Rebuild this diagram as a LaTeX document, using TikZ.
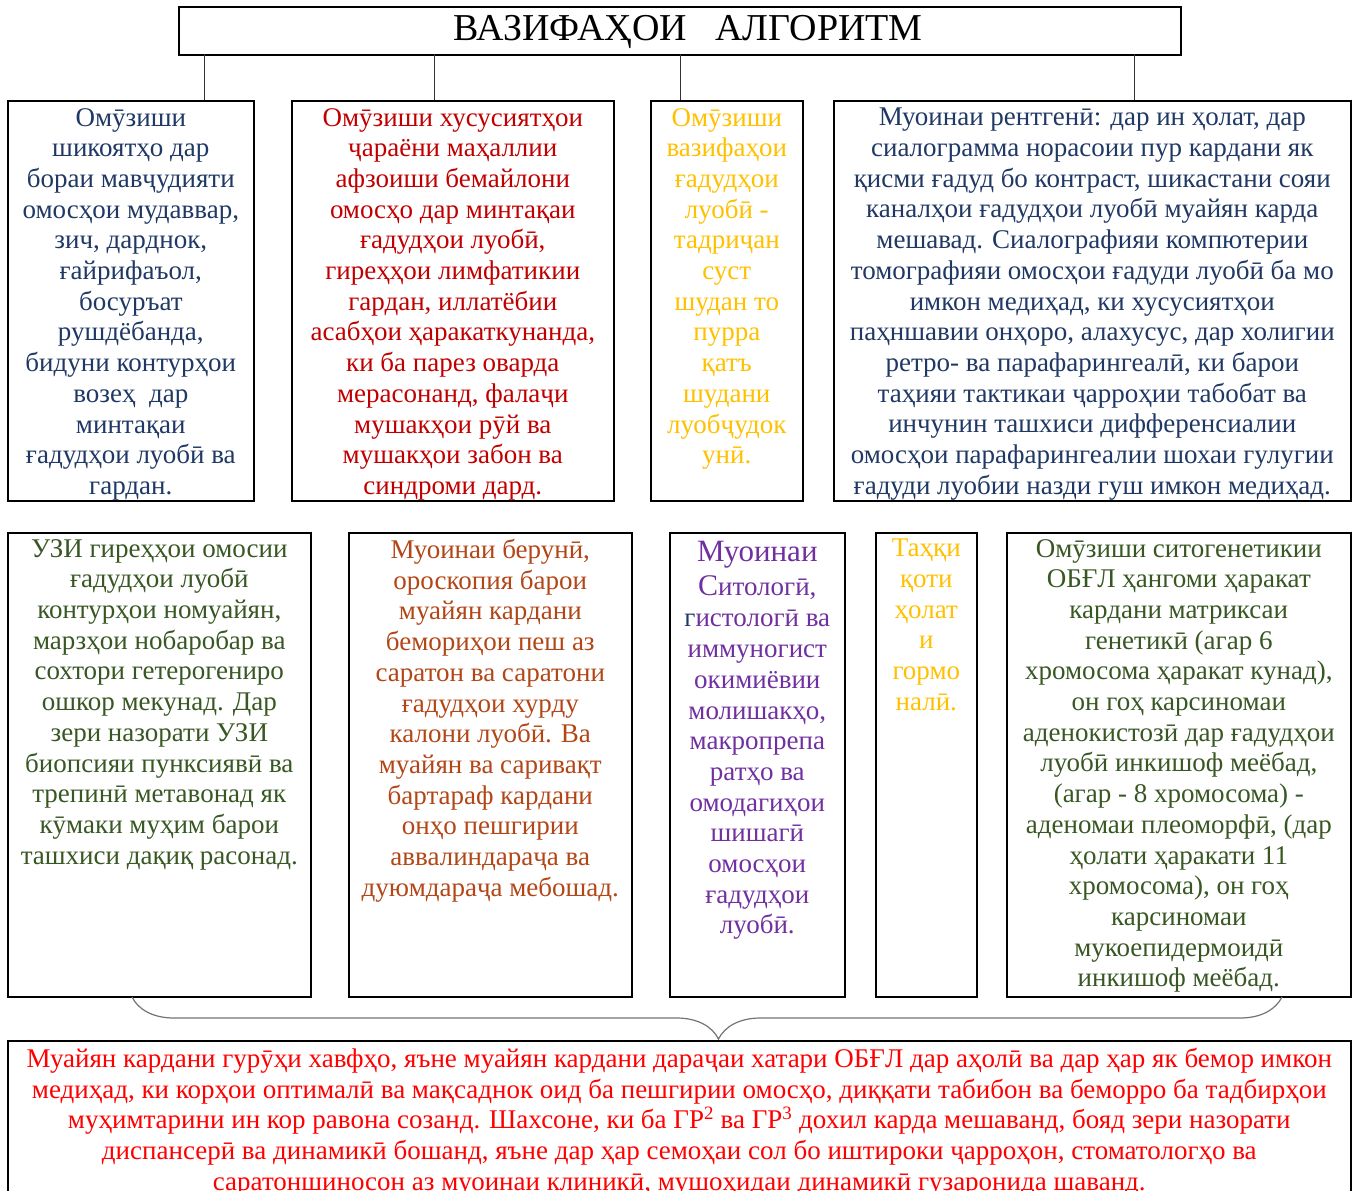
\documentclass[tikz,border=0pt]{standalone}
\usepackage{fontspec}
\setmainfont{Liberation Serif}
\usetikzlibrary{positioning,decorations.pathreplacing}
\definecolor{mynavy}{RGB}{31, 56, 100}
\definecolor{mydarkred}{RGB}{192, 0, 0}
\definecolor{mygold}{RGB}{255, 192, 0}
\definecolor{mygreen}{RGB}{56, 87, 35}
\definecolor{mybrown}{RGB}{178, 70, 22}
\definecolor{mypurple}{RGB}{112, 48, 160}
\definecolor{myred}{RGB}{255, 0, 0}

\begin{document}
\begin{tikzpicture}[x=1pt,y=-1pt]
                \useasboundingbox (0,0) rectangle (1357,1191);
                \tikzstyle{box}=[rectangle, draw, line width=1.6pt, anchor=north west, inner sep=0pt]
                \tikzstyle{txt}=[align=center, inner sep=0pt, font=\fontsize{27}{30.7}\selectfont]

                \node[box, minimum width=1002pt, minimum height=48pt] (T) at (178,6) {};
                \node[inner sep=0pt, font=\fontsize{38}{42}\selectfont] (Tt) at (688,32) {ВАЗИФАҲОИ~~~АЛГОРИТМ};

                % top row
                \node[box, minimum width=246pt, minimum height=400pt] (B1) at (7,100) {};
                \node[box, minimum width=322pt, minimum height=400pt] (B2) at (291,100) {};
                \node[box, minimum width=152pt, minimum height=400pt] (B3) at (650,100) {};
                \node[box, minimum width=517pt, minimum height=400pt] (B4) at (833,100) {};

                \node[txt, text=mynavy, below=8pt of B1.north] (B1t) {Омӯзиши\\шикоятҳо дар\\бораи мавҷудияти\\омосҳои мудаввар,\\зич, дарднок,\\ғайрифаъол,\\босуръат\\рушдёбанда,\\бидуни контурҳои\\возеҳ~~дар\\минтақаи\\ғадудҳои луобӣ ва\\гардан.};
                \node[txt, text=mydarkred, below=8pt of B2.north] (B2t) {Омӯзиши хусусиятҳои\\ҷараёни маҳаллии\\афзоиши бемайлони\\омосҳо дар минтақаи\\ғадудҳои луобӣ,\\гиреҳҳои лимфатикии\\гардан, иллатёбии\\асабҳои ҳаракаткунанда,\\ки ба парез оварда\\мерасонанд, фалаҷи\\мушакҳои рӯй ва\\мушакҳои забон ва\\синдроми дард.};
                \node[txt, text=mygold, below=8pt of B3.north] (B3t) {Омӯзиши\\вазифаҳои\\ғадудҳои\\луобӣ -\\тадриҷан\\суст\\шудан то\\пурра\\қатъ\\шудани\\луобҷудок\\унӣ.};
                \node[txt, text=mynavy, below=8pt of B4.north] (B4t) {Муоинаи рентгенӣ: дар ин ҳолат, дар\\сиалограмма норасоии пур кардани як\\қисми ғадуд бо контраст, шикастани сояи\\каналҳои ғадудҳои луобӣ муайян карда\\мешавад. Сиалографияи компютерии\\томографияи омосҳои ғадуди луобӣ ба мо\\имкон медиҳад, ки хусусиятҳои\\паҳншавии онҳоро, алахусус, дар холигии\\ретро- ва парафарингеалӣ, ки барои\\таҳияи тактикаи ҷарроҳии табобат ва\\инчунин ташхиси дифференсиалии\\омосҳои парафарингеалии шохаи гулугии\\ғадуди луобии назди гуш имкон медиҳад.};

                % second row
                \node[box, minimum width=303pt, minimum height=464pt] (C1) at (7,532) {};
                \node[box, minimum width=283pt, minimum height=464pt] (C2) at (348,532) {};
                \node[box, minimum width=175pt, minimum height=464pt] (C3) at (669,532) {};
                \node[box, minimum width=101pt, minimum height=464pt] (C4) at (875,532) {};
                \node[box, minimum width=344pt, minimum height=464pt] (C5) at (1006,532) {};

                \node[txt, text=mygreen, below=7pt of C1.north] (C1t) {УЗИ гиреҳҳои омосии\\ғадудҳои луобӣ\\контурҳои номуайян,\\марзҳои нобаробар ва\\сохтори гетерогениро\\ошкор мекунад. Дар\\зери назорати УЗИ\\биопсияи пунксиявӣ ва\\трепинӣ метавонад як\\кӯмаки муҳим барои\\ташхиси дақиқ расонад.};
                \node[txt, text=mybrown, below=7pt of C2.north] (C2t) {Муоинаи берунӣ,\\ороскопия барои\\муайян кардани\\бемориҳои пеш аз\\саратон ва саратони\\ғадудҳои хурду\\калони луобӣ. Ва\\муайян ва саривақт\\бартараф кардани\\онҳо пешгирии\\аввалиндараҷа ва\\дуюмдараҷа мебошад.};
                \node[txt, text=mypurple, below=9pt of C3.north] (C3t) {{\fontsize{31}{34}\selectfont Муоинаи}\\[3pt]{\fontsize{30}{33}\selectfont С}итологӣ,\\[1pt]{\color{mynavy}г}истологӣ ва\\иммуногист\\окимиёвии\\молишакҳо,\\макропрепа\\ратҳо ва\\омодагиҳои\\шишагӣ\\омосҳои\\ғадудҳои\\луобӣ.};
                \node[txt, text=mygold, below=7pt of C4.north] (C4t) {Таҳқи\\қоти\\ҳолат\\и\\гормо\\налӣ.};
                \node[txt, text=mygreen, below=7pt of C5.north] (C5t) {Омӯзиши ситогенетикии\\ОБҒЛ ҳангоми ҳаракат\\кардани матриксаи\\генетикӣ (агар 6\\хромосома ҳаракат кунад),\\он гоҳ карсиномаи\\аденокистозӣ дар ғадудҳои\\луобӣ инкишоф меёбад,\\(агар - 8 хромосома) -\\аденомаи плеоморфӣ, (дар\\ҳолати ҳаракати 11\\хромосома), он гоҳ\\карсиномаи\\мукоепидермоидӣ\\инкишоф меёбад.};

                % bottom box
                \node[box, minimum width=1343pt, minimum height=200pt] (R) at (7,1040) {};
                \node[txt, text=myred, below=8pt of R.north] (Rt) {Муайян кардани гурӯҳи хавфҳо, яъне муайян кардани дараҷаи хатари ОБҒЛ дар аҳолӣ ва дар ҳар як бемор имкон\\медиҳад, ки корҳои оптималӣ ва мақсаднок оид ба пешгирии омосҳо, диққати табибон ва беморро ба тадбирҳои\\муҳимтарини ин кор равона созанд. Шахсоне, ки ба ГР\textsuperscript{2} ва ГР\textsuperscript{3} дохил карда мешаванд, бояд зери назорати\\диспансерӣ ва динамикӣ бошанд, яъне дар ҳар семоҳаи сол бо иштироки ҷарроҳон, стоматологҳо ва\\саратоншиносон аз муоинаи клиникӣ, мушоҳидаи динамикӣ гузаронида шаванд.};

                \tikzstyle{link}=[draw=black!80, line width=0.8pt]
                \tikzstyle{bracket}=[decorate, decoration={brace, mirror, amplitude=42pt, aspect=0.51}, draw=black!55, line width=1.2pt]

                \coordinate (t1) at (204,54);
                \coordinate (t2) at (434,54);
                \coordinate (t3) at (680,54);
                \coordinate (t4) at (1134,54);
                \draw[link] (t1) -- (t1 |- B1.north);
                \draw[link] (t2) -- (t2 |- B2.north);
                \draw[link] (t3) -- (t3 |- B3.north);
                \draw[link] (t4) -- (t4 |- B4.north);

                \coordinate (bl) at (132,997);
                \coordinate (br) at (1282,997);
                \draw[bracket] (bl) -- (br);
            \end{tikzpicture}
\end{document}
